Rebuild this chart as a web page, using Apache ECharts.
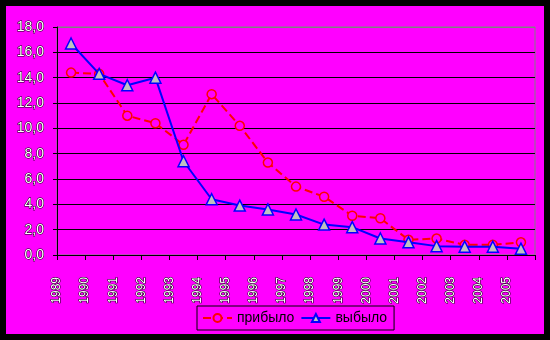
<!DOCTYPE html>
<html>
<head>
<meta charset="utf-8">
<style>
  html, body { margin: 0; padding: 0; background: #000; }
  #chart { width: 550px; height: 340px; }
</style>
<script src="https://cdn.jsdelivr.net/npm/echarts@6/dist/echarts.min.js"></script>
</head>
<body>
<div id="chart"></div>
<script>
// Years on the category axis
const years = ['1989', '1990', '1991', '1992', '1993', '1994', '1995', '1996', '1997',
               '1998', '1999', '2000', '2001', '2002', '2003', '2004', '2005'];

// Arrivals (прибыло)
const arrived = [14.4, 14.3, 11.0, 10.4, 8.7, 12.7, 10.2, 7.3, 5.4, 4.6, 3.1, 2.9, 1.2, 1.3, 0.8, 0.8, 1.0];

// Departures (выбыло)
const departed = [16.7, 14.3, 13.4, 14.0, 7.4, 4.4, 3.9, 3.6, 3.2, 2.4, 2.2, 1.3, 1.0, 0.7, 0.65, 0.65, 0.5];

// Value-axis ticks
const yMin = 0, yMax = 18, yStep = 2;

const series1Name = 'прибыло';
const series2Name = 'выбыло';

const BG = '#FF00FF';
const FONT = 'Liberation Sans';

const chart = echarts.init(document.getElementById('chart'), null, { renderer: 'canvas' });

// gridline colours: black everywhere except the top edge, which sits on the grey frame
const gridColors = [];
for (let v = yMin; v <= yMax; v += yStep) gridColors.push(v === yMax ? '#808080' : '#000000');

chart.setOption({
  backgroundColor: BG,
  animation: false,
  textStyle: { fontFamily: FONT },
  graphic: [{
    type: 'rect',
    shape: { x: 0, y: 0, width: 550, height: 340 },
    style: { fill: null, stroke: '#000', lineWidth: 12 },
    silent: true,
    z: 100
  }],
  grid: {
    left: 57, top: 27, right: 15, bottom: 85,
    show: true,
    borderColor: '#808080',
    borderWidth: 1,
    backgroundColor: 'transparent'
  },
  legend: {
    left: 197, top: 306,
    padding: [5, 7, 5, 5],
    borderColor: '#000',
    borderWidth: 1,
    itemWidth: 29,
    itemHeight: 10,
    itemGap: 6,
    textStyle: { color: '#000', fontSize: 14, fontFamily: FONT },
    data: [series1Name, series2Name]
  },
  xAxis: {
    type: 'category',
    data: years,
    boundaryGap: true,
    axisLine: { show: true, lineStyle: { color: '#000', width: 1 } },
    axisTick: { show: true, alignWithLabel: false, length: 5, lineStyle: { color: '#000' } },
    axisLabel: {
      interval: 0,
      rotate: 90,
      margin: 22,
      fontSize: 12,
      fontFamily: FONT,
      color: '#ffffff',
      textBorderColor: '#000',
      textBorderWidth: 1,
      // year labels sit under the tick marks, half a category to the left
      verticalAlign: 'bottom',
      lineHeight: 28
    },
    splitLine: { show: false }
  },
  yAxis: {
    type: 'value',
    min: yMin, max: yMax, interval: yStep,
    axisLine: { show: true, lineStyle: { color: '#000', width: 1 } },
    axisTick: { show: true, length: 4, lineStyle: { color: '#000' } },
    axisLabel: {
      margin: 13,
      fontSize: 14,
      fontFamily: FONT,
      color: '#ffffff',
      textBorderColor: '#000',
      textBorderWidth: 1,
      formatter: v => v.toFixed(1).replace('.', ',')
    },
    splitLine: { show: true, lineStyle: { color: gridColors, width: 1 } }
  },
  series: [
    {
      name: series1Name,
      type: 'line',
      data: arrived,
      symbol: 'circle',
      symbolSize: 9,
      itemStyle: { color: BG, borderColor: '#FF0000', borderWidth: 1.5 },
      lineStyle: { color: '#FF0000', width: 2, type: [8, 4] },
      z: 2
    },
    {
      name: series2Name,
      type: 'line',
      data: departed,
      symbol: 'triangle',
      symbolSize: 11,
      itemStyle: { color: '#C0C0C0', borderColor: '#0000FF', borderWidth: 1.5 },
      lineStyle: { color: '#0000FF', width: 2 },
      z: 3
    }
  ]
});
</script>
</body>
</html>
